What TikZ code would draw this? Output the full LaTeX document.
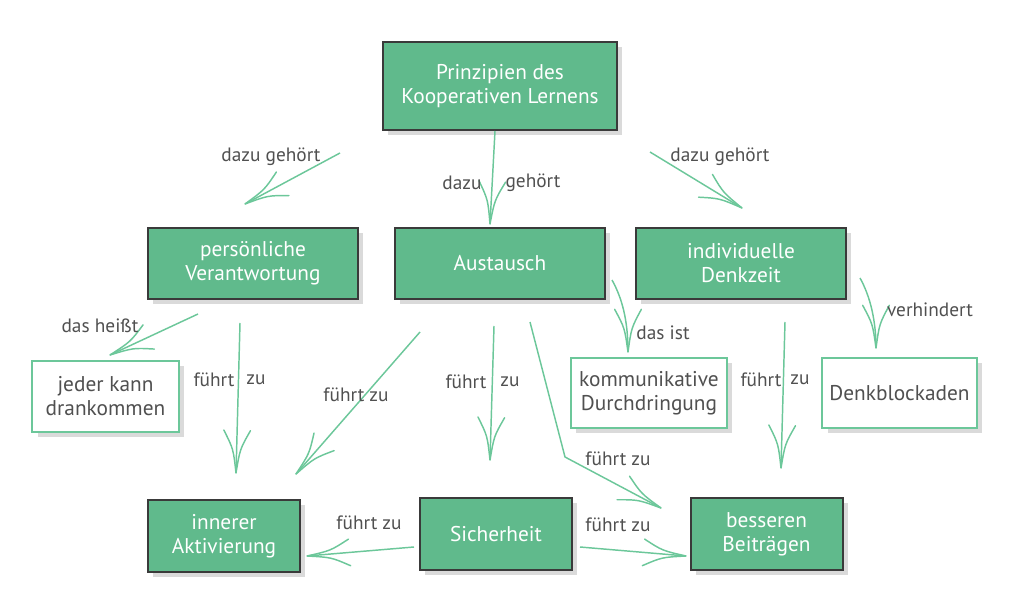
\documentclass[tikz,border=0pt]{standalone}
\usepackage{fontspec}
\setmainfont{PT Sans}
\usetikzlibrary{decorations.markings,shadows}
\definecolor{boxgreen}{RGB}{96,186,140}
\definecolor{boxborder}{RGB}{58,58,58}
\definecolor{arrowgreen}{RGB}{108,199,154}
\definecolor{labelgrey}{RGB}{80,80,80}
\definecolor{shadowgrey}{RGB}{218,218,218}
\tikzset{
  gbox/.style={draw=boxborder, line width=1.5pt, fill=boxgreen, text=white,
    align=center, font=\fontsize{16}{18}\selectfont, inner sep=2pt,
    drop shadow={shadow xshift=4pt, shadow yshift=-4pt, fill=shadowgrey, opacity=1}},
  wbox/.style={draw=arrowgreen, line width=1.3pt, fill=white, text=labelgrey,
    align=center, font=\fontsize{16}{18}\selectfont, inner sep=2pt,
    drop shadow={shadow xshift=4pt, shadow yshift=-4pt, fill=shadowgrey, opacity=1}},
  lbl/.style={text=labelgrey, font=\fontsize{14.5}{16}\selectfont, inner sep=1pt},
  conn/.style={draw=arrowgreen, line width=1.1pt,
    postaction={decorate, decoration={markings, mark=at position 1 with {
      \draw[arrowgreen, line width=1.1pt, line cap=round]
        (0,0) .. controls (-18pt,2.5pt) .. (-32pt,10pt)
        (0,0) .. controls (-18pt,-2.5pt) .. (-32pt,-10pt);}}}},
}
\begin{document}
\begin{tikzpicture}[x=0.75pt,y=-0.75pt]
\useasboundingbox (0,0) rectangle (1024,609);
% boxes
\node[gbox, minimum width=175.5pt, minimum height=66pt] (top) at (500,86) {Prinzipien des\\Kooperativen Lernens};
\node[gbox, minimum width=157.5pt, minimum height=53pt] (pv) at (253,263.5) {persönliche\\Verantwortung};
\node[gbox, minimum width=157.5pt, minimum height=53pt] (aus) at (500,263.5) {Austausch};
\node[gbox, minimum width=157.5pt, minimum height=53pt] (ind) at (741,263.5) {individuelle\\Denkzeit};
\node[wbox, minimum width=110pt, minimum height=53pt] (jed) at (105.5,396.5) {jeder kann\\drankommen};
\node[wbox, minimum width=117pt, minimum height=52.5pt] (kom) at (649,393) {kommunikative\\Durchdringung};
\node[wbox, minimum width=116pt, minimum height=52.5pt] (den) at (899.5,393) {Denkblockaden};
\node[gbox, minimum width=114pt, minimum height=54pt] (inn) at (224,536) {innerer\\Aktivierung};
\node[gbox, minimum width=114pt, minimum height=54pt] (sic) at (496,534) {Sicherheit};
\node[gbox, minimum width=114pt, minimum height=54pt] (bes) at (766.5,534) {besseren\\Beiträgen};
% connector end points
\coordinate (c1s) at (340,153); \coordinate (c1e) at (245,204);
\coordinate (c2s) at (495,131); \coordinate (c2e) at (490,224);
\coordinate (c3s) at (650,152); \coordinate (c3e) at (742,208);
\coordinate (c4s) at (198,314); \coordinate (c4e) at (110,355);
\coordinate (c5s) at (240,323); \coordinate (c5e) at (236,473);
\coordinate (c6s) at (420,332); \coordinate (c6e) at (296,474);
\coordinate (c7s) at (494,326); \coordinate (c7e) at (490,460);
\coordinate (c8s) at (530,322); \coordinate (c8m) at (565,457); \coordinate (c8e) at (661,508);
\coordinate (c9s) at (612,280); \coordinate (c9e) at (628,352);
\coordinate (c10s) at (785,322); \coordinate (c10e) at (781,468);
\coordinate (c11s) at (860,278); \coordinate (c11e) at (876,348);
\coordinate (c12s) at (414,547); \coordinate (c12e) at (307,556);
\coordinate (c13s) at (580,547); \coordinate (c13e) at (686,556);
% connectors
\draw[conn] (c1s) -- (c1e);
\draw[conn] (c2s) -- (c2e);
\draw[conn] (c3s) -- (c3e);
\draw[conn] (c4s) -- (c4e);
\draw[conn] (c5s) -- (c5e);
\draw[conn] (c6s) -- (c6e);
\draw[conn] (c7s) -- (c7e);
\draw[conn] (c8s) -- (c8m) -- (c8e);
\draw[conn] (c9s) .. controls (622,298) and (628,320) .. (c9e);
\draw[conn] (c10s) -- (c10e);
\draw[conn] (c11s) .. controls (870,296) and (876,320) .. (c11e);
\draw[conn] (c12s) -- (c12e);
\draw[conn] (c13s) -- (c13e);
% labels
\node[lbl] (l1) at (271,157) {dazu gehört};
\node[lbl] (l2a) at (462,183) {dazu};
\node[lbl] (l2b) at (533,183) {gehört};
\node[lbl] (l3) at (720,157) {dazu gehört};
\node[lbl] (l4) at (100,326) {das heißt};
\node[lbl] (l5a) at (214,380) {führt};
\node[lbl] (l5b) at (256,380) {zu};
\node[lbl] (l6) at (356,395) {führt zu};
\node[lbl] (l7a) at (466,382) {führt};
\node[lbl] (l7b) at (510,382) {zu};
\node[lbl] (l8) at (618,459) {führt zu};
\node[lbl] (l9) at (663,333) {das ist};
\node[lbl] (l10a) at (761,380) {führt};
\node[lbl] (l10b) at (800,380) {zu};
\node[lbl] (l11) at (930,310) {verhindert};
\node[lbl] (l12) at (369,523) {führt zu};
\node[lbl] (l13) at (618,525) {führt zu};
\end{tikzpicture}
\end{document}
